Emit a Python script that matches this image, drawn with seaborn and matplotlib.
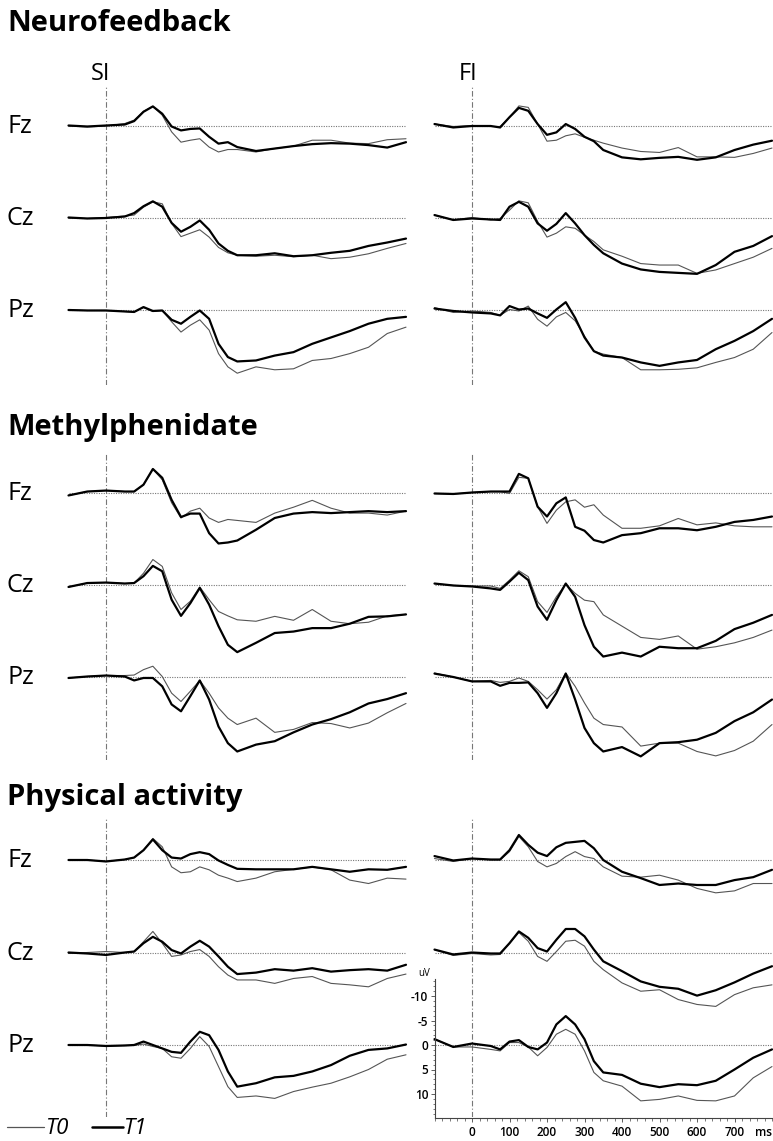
import matplotlib
matplotlib.use("Agg")
import matplotlib.pyplot as plt
from matplotlib.lines import Line2D
import seaborn as sns

sns.set_style("ticks")
plt.rcParams["font.family"] = ["Open Sans", "DejaVu Sans"]
plt.rcParams["text.color"] = "black"
plt.rcParams["xtick.color"] = "#444444"
plt.rcParams["ytick.color"] = "#444444"
plt.rcParams["xtick.labelcolor"] = "black"
plt.rcParams["ytick.labelcolor"] = "black"

W, H = 773, 1141

# time points (ms) and ERP amplitudes (uV, negative up)
times = [-100, -50, 0, 50, 75, 100, 125, 150, 175, 200, 225, 250, 275, 300, 325, 350,
         400, 450, 500, 550, 600, 650, 700, 750, 800]

groups = ["Neurofeedback", "Methylphenidate", "Physical activity"]
conditions = ["SI", "FI"]
electrodes = ["Fz", "Cz", "Pz"]

# Neurofeedback
nf_si_fz_t0 = [0, 0.2, 0, -0.5, -1.2, -3.0, -4.0, -2.2, 1.2, 3.3, 2.9, 2.6, 4.3, 5.3, 4.8, 4.8, 5.3, 4.6, 4.1, 2.9, 2.9, 3.5, 3.6, 2.8, 2.6]
nf_si_fz_t1 = [-0.1, 0.1, -0.1, -0.3, -1.0, -2.9, -4.0, -2.5, 0.1, 0.9, 0.6, 0.5, 2.2, 3.6, 3.3, 4.3, 5.1, 4.6, 4.1, 3.7, 3.5, 3.6, 3.9, 4.4, 3.3]
nf_si_cz_t0 = [0, 0.1, -0.1, -0.4, -0.6, -2.2, -3.3, -2.9, 1.1, 3.8, 3.1, 2.4, 3.9, 6.0, 7.1, 7.6, 7.8, 7.6, 7.9, 7.6, 8.3, 8.0, 7.3, 6.2, 5.2]
nf_si_cz_t1 = [-0.1, 0.1, 0, -0.3, -1.0, -2.4, -3.4, -2.3, 1.0, 2.8, 1.8, 0.5, 2.4, 5.2, 6.7, 7.6, 7.6, 7.2, 7.8, 7.6, 7.1, 6.7, 5.7, 5.0, 4.2]
nf_si_pz_t0 = [0, 0.1, 0.1, 0.3, 0.4, -0.5, 0.3, 0.1, 2.4, 4.5, 3.1, 2.0, 4.1, 8.9, 11.6, 12.9, 11.6, 12.2, 12.0, 10.3, 9.9, 8.9, 7.6, 4.8, 3.5]
nf_si_pz_t1 = [0, 0.1, 0.1, 0.3, 0.4, -0.6, 0.2, 0.1, 2.0, 2.8, 1.4, 0.1, 1.8, 6.9, 9.6, 10.5, 10.3, 9.3, 8.6, 6.9, 5.6, 4.3, 2.8, 1.8, 1.4]
nf_fi_fz_t0 = [-0.4, 0.1, -0.1, 0.1, 0.1, -1.8, -4.1, -3.8, -0.4, 3.1, 2.9, 2.0, 1.6, 2.3, 2.9, 3.5, 4.5, 5.2, 5.4, 4.4, 6.3, 6.3, 6.4, 5.6, 4.5]
nf_fi_fz_t1 = [-0.4, 0.3, 0, 0, 0.3, -1.8, -3.7, -3.1, -0.4, 1.8, 1.3, -0.4, 0.6, 2.2, 3.1, 4.9, 6.4, 6.8, 6.5, 6.3, 6.9, 6.4, 4.9, 3.8, 3.0]
nf_fi_cz_t0 = [-0.6, 0.4, -0.1, 0.4, 0.1, -1.6, -3.5, -3.1, 0.7, 3.9, 3.1, 1.8, 2.1, 3.5, 4.8, 6.5, 7.8, 9.3, 9.6, 9.6, 11.3, 10.6, 9.3, 8.0, 6.2]
nf_fi_cz_t1 = [-0.6, 0.4, 0.1, 0.3, 0.4, -2.3, -3.3, -2.3, 1.1, 2.6, 1.2, -1.0, 1.1, 3.5, 5.5, 7.2, 9.3, 10.5, 11.0, 11.2, 11.4, 9.6, 6.9, 5.7, 3.7]
nf_fi_pz_t0 = [-0.5, 0.5, 0.2, 0.5, 1.1, -0.1, 0.2, -0.8, 1.9, 3.3, 1.4, 0.5, 2.2, 5.3, 8.4, 9.0, 9.7, 12.2, 12.2, 12.1, 11.8, 10.7, 9.7, 8.0, 4.6]
nf_fi_pz_t1 = [-0.3, 0.2, 0.5, 0.7, 1.1, -0.8, -0.1, -0.3, 0.7, 1.6, -0.1, -1.6, 1.6, 5.6, 8.4, 9.3, 9.7, 10.7, 11.4, 10.7, 10.2, 8.0, 6.3, 4.3, 1.8]

# Methylphenidate
mph_si_fz_t0 = [0.5, -0.3, -0.5, -0.3, -0.3, -1.7, -4.9, -2.7, 2.0, 5.1, 3.7, 3.1, 5.1, 6.0, 5.4, 5.6, 6.0, 4.1, 2.9, 1.5, 3.1, 4.1, 4.1, 4.5, 3.7]
mph_si_fz_t1 = [0.5, -0.3, -0.5, -0.3, -0.3, -1.7, -4.9, -3.1, 1.4, 4.9, 4.2, 4.2, 8.2, 10.3, 10.1, 9.7, 7.5, 5.1, 4.2, 3.9, 4.1, 3.9, 3.7, 3.9, 3.7]
mph_si_cz_t0 = [0.4, -0.4, -0.5, -0.3, -0.4, -2.4, -5.2, -3.8, 1.6, 5.0, 3.3, 0.4, 3.0, 5.4, 6.3, 7.1, 7.4, 6.4, 7.2, 5.0, 7.4, 7.9, 7.6, 6.3, 6.0]
mph_si_cz_t1 = [0.4, -0.4, -0.5, -0.3, -0.4, -1.8, -3.9, -2.8, 3.0, 6.3, 3.7, 0.6, 4.0, 8.4, 12.2, 13.7, 11.8, 9.8, 9.5, 8.8, 8.8, 7.9, 6.5, 6.4, 6.0]
mph_si_pz_t0 = [0.2, -0.1, -0.3, -0.3, -0.4, -1.5, -2.2, -0.1, 3.3, 5.0, 2.9, 0.7, 3.3, 6.3, 8.4, 9.7, 8.4, 11.3, 10.7, 9.3, 9.5, 10.4, 9.4, 7.3, 5.4]
mph_si_pz_t1 = [0.2, -0.1, -0.3, -0.1, 0.7, 0.2, 0.2, 1.9, 5.6, 7.0, 3.9, 0.7, 4.6, 10.1, 13.5, 15.2, 13.8, 13.1, 11.3, 9.7, 8.6, 7.2, 5.4, 4.5, 3.3]
mph_fi_fz_t0 = [0.1, 0.2, -0.1, -0.3, -0.3, 0.1, -3.2, -3.0, 2.8, 6.2, 3.5, 1.8, 1.4, 2.9, 2.4, 4.5, 7.2, 7.2, 6.7, 5.2, 6.5, 6.1, 6.7, 6.9, 6.9]
mph_fi_fz_t1 = [0.1, 0.2, -0.1, -0.3, -0.3, -0.3, -3.9, -3.0, 2.8, 4.8, 2.1, 0.9, 6.9, 7.7, 9.6, 10.1, 8.6, 8.2, 7.2, 7.2, 7.6, 6.9, 5.9, 5.5, 4.8]
mph_fi_cz_t0 = [-0.3, 0.1, 0.2, 0.2, 0.7, -1.0, -2.9, -1.7, 3.4, 5.6, 2.4, -0.2, 1.7, 3.1, 3.4, 6.1, 8.4, 10.7, 11.1, 10.4, 13.1, 12.6, 11.8, 10.7, 9.2]
mph_fi_cz_t1 = [-0.3, 0.1, 0.3, 0.7, 1.0, -0.7, -2.5, -1.0, 4.4, 7.1, 3.1, -0.3, 2.4, 8.2, 12.6, 14.6, 13.8, 14.6, 12.6, 12.9, 12.9, 11.4, 9.0, 7.7, 6.1]
mph_fi_pz_t0 = [-0.8, 0, 0.9, 0.7, 1.1, 0.9, 0.2, 0.9, 2.6, 4.5, 2.6, -0.8, 1.9, 5.3, 8.4, 9.7, 10.2, 14.1, 13.5, 13.5, 15.2, 16.1, 15.0, 13.1, 9.7]
mph_fi_pz_t1 = [-0.7, 0, 0.9, 0.9, 1.8, 1.2, 1.2, 1.1, 3.3, 6.3, 3.3, -0.7, 4.6, 10.4, 13.5, 15.2, 14.3, 16.2, 13.5, 13.3, 12.8, 11.4, 9.0, 7.2, 4.6]

# Physical activity
pa_si_fz_t0 = [0, 0, 0.3, -0.1, -0.5, -2.0, -4.4, -2.7, 1.4, 2.6, 2.4, 1.4, 2.0, 3.1, 3.7, 4.4, 3.7, 2.4, 1.9, 1.4, 2.0, 4.1, 4.8, 3.7, 3.9]
pa_si_fz_t1 = [0, 0, 0.3, -0.1, -0.5, -2.0, -4.2, -2.0, -0.5, -0.3, -1.2, -1.6, -1.2, 0.1, 1.0, 1.8, 1.9, 1.9, 1.9, 1.4, 1.9, 2.4, 1.9, 2.0, 1.4]
pa_si_cz_t0 = [0.1, -0.1, -0.3, -0.1, -0.3, -2.3, -4.4, -2.0, 0.7, 0.4, -0.3, -0.7, 0.7, 2.8, 4.5, 5.5, 5.5, 6.2, 5.2, 4.8, 6.2, 6.5, 6.9, 5.2, 4.3]
pa_si_cz_t1 = [-0.1, 0.1, 0.4, -0.1, -0.3, -2.0, -3.3, -2.3, -0.6, 0.1, -1.3, -2.5, -1.3, 0.7, 2.8, 4.3, 4.0, 3.3, 3.6, 3.1, 3.8, 3.5, 3.3, 3.6, 2.4]
pa_si_pz_t0 = [0, 0, 0.2, 0.1, 0.1, -0.2, 0.3, 0.7, 2.4, 2.7, 0.7, -1.7, 0.3, 4.4, 8.5, 10.7, 10.4, 10.9, 9.5, 8.6, 7.8, 6.5, 5.0, 2.9, 2.0]
pa_si_pz_t1 = [0, 0, 0.2, 0.1, 0, -0.7, 0, 0.7, 1.4, 1.6, -0.7, -2.7, -2.0, 1.0, 5.4, 8.5, 7.8, 6.6, 6.3, 5.4, 4.1, 2.2, 1.0, 0.7, -0.1]
pa_fi_fz_t0 = [-0.3, 0.3, -0.3, 0, 0, -1.7, -4.8, -2.7, 0.3, 1.4, 0.7, -0.7, -1.7, -0.7, -0.3, 1.4, 3.3, 3.5, 3.1, 4.1, 5.8, 6.7, 6.3, 4.8, 4.8]
pa_fi_fz_t1 = [-0.8, 0.1, -0.3, -0.1, -0.1, -2.0, -5.1, -3.1, -1.5, -0.8, -2.6, -3.5, -3.7, -3.9, -2.4, 0, 2.4, 3.7, 5.1, 4.8, 5.1, 5.1, 4.1, 3.5, 2.0]
pa_fi_cz_t0 = [-0.7, 0.5, 0.1, 0.4, 0.3, -2.0, -4.2, -2.4, 0.7, 1.7, -0.3, -2.4, -2.6, -1.4, 1.7, 3.4, 6.1, 7.8, 7.5, 9.5, 10.5, 10.9, 8.5, 7.1, 6.5]
pa_fi_cz_t1 = [-0.7, 0.3, -0.1, 0.1, 0.1, -2.0, -4.4, -3.1, -1.0, -0.3, -2.7, -4.9, -4.9, -3.4, -0.7, 1.7, 3.7, 5.8, 6.9, 7.3, 8.7, 7.6, 6.0, 4.2, 2.7]
pa_fi_pz_t0 = [-1.2, 0.4, 0.4, 0.9, 1.2, -0.5, -0.5, 0.4, 2.2, 0.5, -2.2, -3.2, -2.2, 1.2, 5.6, 7.3, 8.4, 11.4, 11.1, 10.4, 11.3, 11.4, 10.4, 6.7, 4.4]
pa_fi_pz_t1 = [-1.2, 0.4, -0.3, 0.2, 0.9, -0.7, -1.0, 0.4, 0.9, -0.5, -4.2, -5.9, -4.2, -1.2, 3.3, 5.6, 6.1, 7.9, 8.6, 8.0, 8.2, 7.3, 5.0, 2.6, 0.9]

traces = {
    ("Neurofeedback", "SI", "Fz"): (nf_si_fz_t0, nf_si_fz_t1),
    ("Neurofeedback", "SI", "Cz"): (nf_si_cz_t0, nf_si_cz_t1),
    ("Neurofeedback", "SI", "Pz"): (nf_si_pz_t0, nf_si_pz_t1),
    ("Neurofeedback", "FI", "Fz"): (nf_fi_fz_t0, nf_fi_fz_t1),
    ("Neurofeedback", "FI", "Cz"): (nf_fi_cz_t0, nf_fi_cz_t1),
    ("Neurofeedback", "FI", "Pz"): (nf_fi_pz_t0, nf_fi_pz_t1),
    ("Methylphenidate", "SI", "Fz"): (mph_si_fz_t0, mph_si_fz_t1),
    ("Methylphenidate", "SI", "Cz"): (mph_si_cz_t0, mph_si_cz_t1),
    ("Methylphenidate", "SI", "Pz"): (mph_si_pz_t0, mph_si_pz_t1),
    ("Methylphenidate", "FI", "Fz"): (mph_fi_fz_t0, mph_fi_fz_t1),
    ("Methylphenidate", "FI", "Cz"): (mph_fi_cz_t0, mph_fi_cz_t1),
    ("Methylphenidate", "FI", "Pz"): (mph_fi_pz_t0, mph_fi_pz_t1),
    ("Physical activity", "SI", "Fz"): (pa_si_fz_t0, pa_si_fz_t1),
    ("Physical activity", "SI", "Cz"): (pa_si_cz_t0, pa_si_cz_t1),
    ("Physical activity", "SI", "Pz"): (pa_si_pz_t0, pa_si_pz_t1),
    ("Physical activity", "FI", "Fz"): (pa_fi_fz_t0, pa_fi_fz_t1),
    ("Physical activity", "FI", "Cz"): (pa_fi_cz_t0, pa_fi_cz_t1),
    ("Physical activity", "FI", "Pz"): (pa_fi_pz_t0, pa_fi_pz_t1),
}

# layout in pixels
col_x = [(68.5, 406.0), (434.5, 772.0)]       # x of -100 ms and 800 ms
row_base = [[126, 218, 310], [493, 585, 677], [860, 953, 1045]]
vline_span = [(87, 385), (453, 760), (817, 1117)]
title_y = [31, 435, 805]
PX_UV = 4.9
Y_TOP, Y_BOT = -13.5, 14.8


def px_axes(x0, y0, x1, y1):
    return fig.add_axes([x0 / W, 1 - y1 / H, (x1 - x0) / W, (y1 - y0) / H])


fig = plt.figure(figsize=(W / 100, H / 100), dpi=100)

for gi, group in enumerate(groups):
    fig.text(7 / W, 1 - title_y[gi] / H, group, fontsize=21, fontweight="bold",
             ha="left", va="baseline")
    for ci, cond in enumerate(conditions):
        x0, x1 = col_x[ci]
        # stimulus onset line
        bg = px_axes(x0, vline_span[gi][0], x1, vline_span[gi][1])
        bg.set_xlim(-100, 800)
        bg.set_ylim(0, 1)
        bg.axvline(0, color="#777777", lw=0.8, ls=(0, (5, 2, 1, 2)))
        bg.axis("off")
        for ei, elec in enumerate(electrodes):
            base = row_base[gi][ei]
            top = base + Y_TOP * PX_UV
            bot = base + Y_BOT * PX_UV
            ax = px_axes(x0, top, x1, bot)
            ax.patch.set_alpha(0)
            ax.axhline(0, color="#777777", lw=0.8, ls=(0, (1, 1.2)))
            t0, t1 = traces[(group, cond, elec)]
            sns.lineplot(x=times, y=t0, ax=ax, color="#555555", linewidth=0.8)
            sns.lineplot(x=times, y=t1, ax=ax, color="black", linewidth=1.6)
            for ln in ax.lines:
                ln.set_clip_on(False)
                ln.set_solid_joinstyle("round")
            ax.set_xlim(-100, 800)
            ax.set_ylim(Y_BOT, Y_TOP)
            ax.set_xlabel("")
            ax.set_ylabel("")
            last = (gi == 2 and ci == 1 and ei == 2)
            if last:
                sns.despine(ax=ax)
                for s in ["left", "bottom"]:
                    ax.spines[s].set_color("#444444")
                    ax.spines[s].set_linewidth(0.8)
                ax.set_xticks([0, 100, 200, 300, 400, 500, 600, 700])
                ax.set_xticks(range(-100, 801, 20), minor=True)
                ax.set_yticks([-10, -5, 0, 5, 10])
                ax.set_yticklabels(["-10", "-5", "0", "5", "10"])
                ax.set_yticks(range(-13, 15), minor=True)
                ax.tick_params(which="major", length=3, width=0.6,
                               labelsize=8.5, pad=1.5)
                ax.tick_params(axis="x", which="major", pad=3)
                ax.tick_params(which="minor", length=1.8, width=0.5)
                for lab in ax.get_xticklabels() + ax.get_yticklabels():
                    lab.set_fontweight("semibold")
                ax.text(1.0, -0.06, "ms", transform=ax.transAxes, ha="right", va="top",
                        fontsize=8.5, fontweight="semibold")
                ax.text(-0.03, 1.0, "uV", transform=ax.transAxes, ha="center",
                        va="bottom", fontsize=7)
            else:
                ax.axis("off")
            if ci == 0:
                fig.text(7 / W, 1 - (base + 7) / H, elec, fontsize=18, fontweight="medium",
                         ha="left", va="baseline")
        if gi == 0:
            cx = [101, 468][ci]
            fig.text(cx / W, 1 - 80 / H, cond, fontsize=17, fontweight="medium",
                     ha="center", va="baseline")

# legend
fig.add_artist(Line2D([7 / W, 44 / W], [1 - 1127 / H] * 2, color="#555555", lw=0.9))
fig.text(46 / W, 1 - 1134 / H, "T0", fontsize=16, style="italic", ha="left", va="baseline")
fig.add_artist(Line2D([92 / W, 123 / W], [1 - 1127 / H] * 2, color="black", lw=1.8))
fig.text(124 / W, 1 - 1134 / H, "T1", fontsize=16, style="italic", ha="left", va="baseline")

fig.savefig("out.png", dpi=100)
